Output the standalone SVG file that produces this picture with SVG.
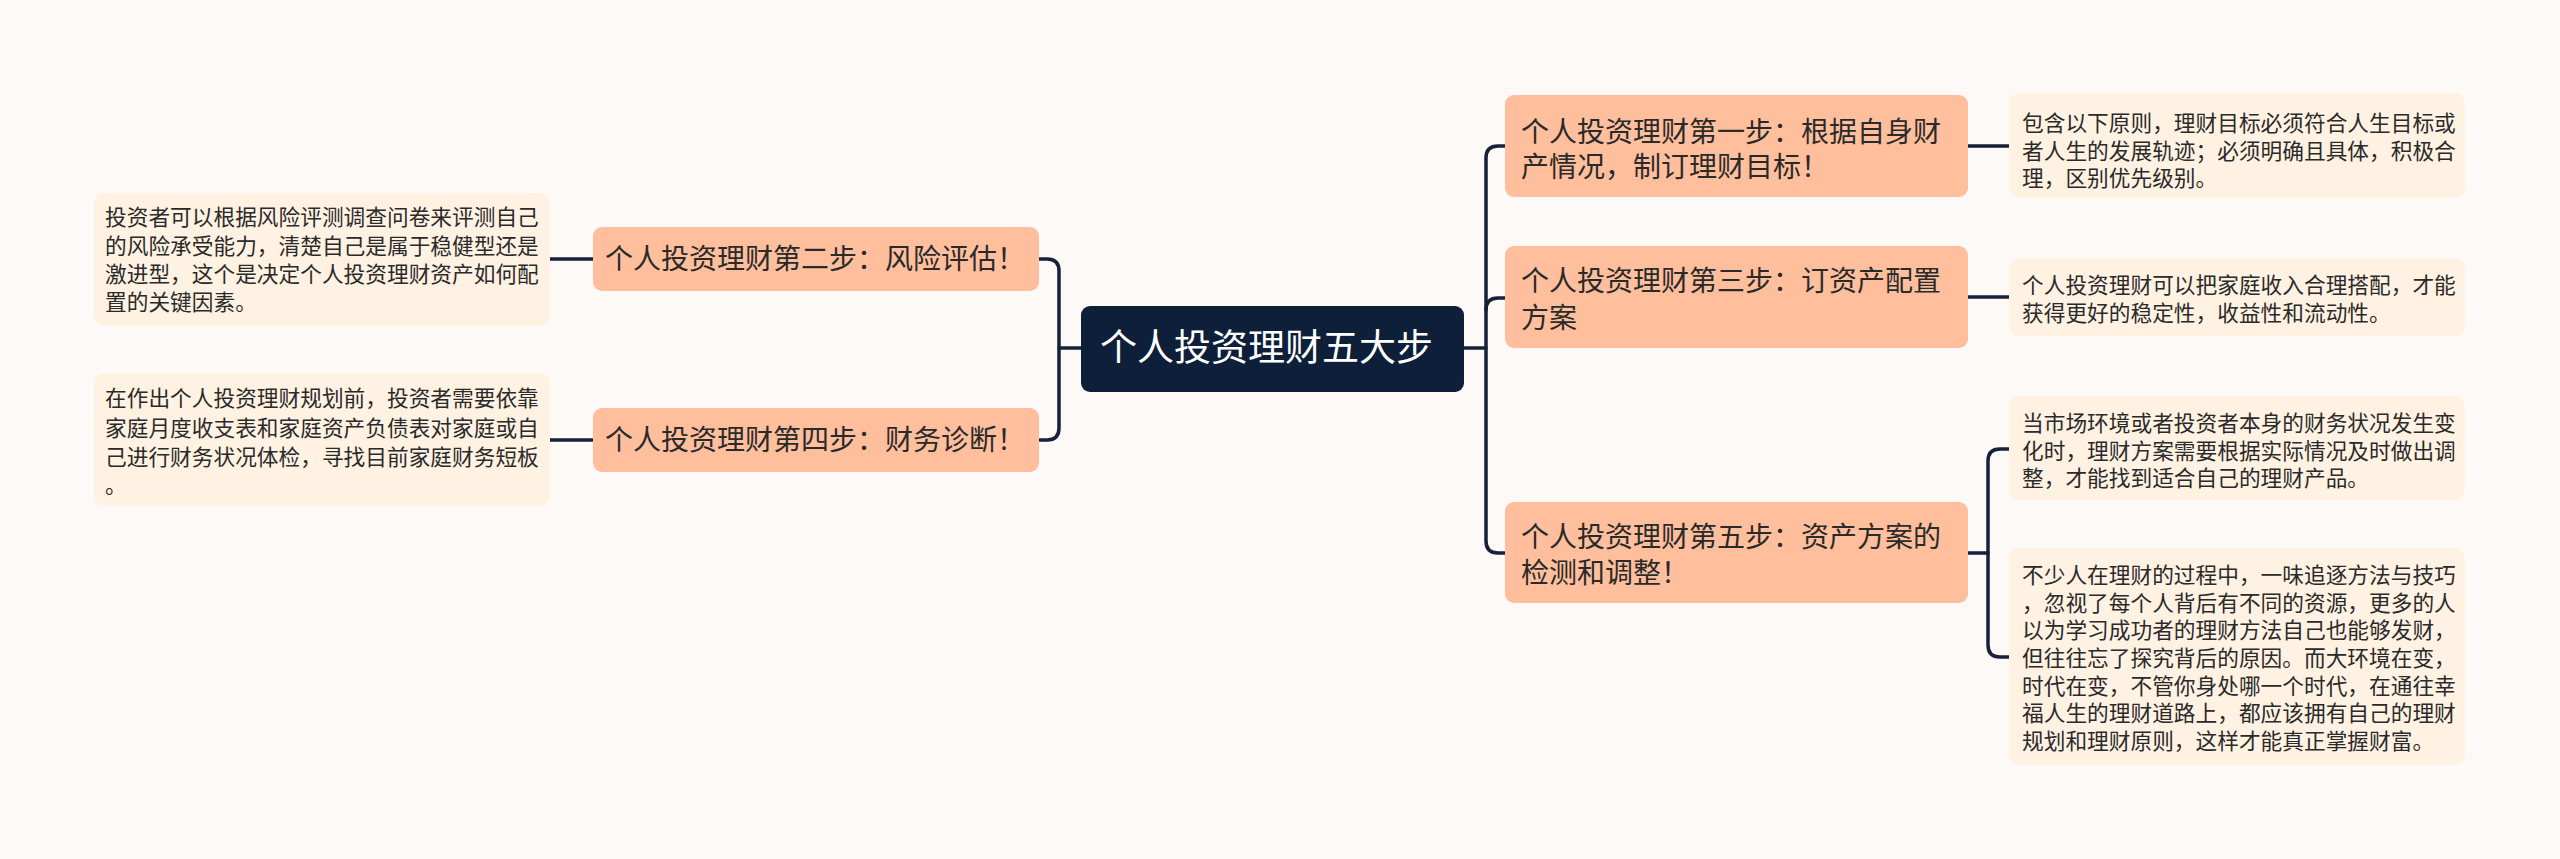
<svg xmlns="http://www.w3.org/2000/svg" width="2560" height="859" viewBox="0 0 2560 859">
<style>
.bg{fill:#FDF9F7}
.root{fill:#0E1F3A}
.node{fill:#FFBF9D}
.leaf{fill:#FFF2E3}
.rt{font-family:"Noto Sans CJK SC","Noto Sans",sans-serif;font-size:37px;fill:#FFFFFF}
.nt{font-family:"Noto Sans CJK SC","Noto Sans",sans-serif;font-size:28px;fill:#2A2A2A}
.lt{font-family:"Noto Sans CJK SC","Noto Sans",sans-serif;font-size:21.7px;fill:#2A2A2A}
.conn path{fill:none;stroke:#16213A;stroke-width:3.5;stroke-linecap:round}
</style>
<rect class="bg" x="0" y="0" width="2560" height="859"/>
<g class="conn" id="connectors">
<path d="M1081,348 H1059"/>
<path d="M1039,259 H1047 Q1059,259 1059,271 V428 Q1059,440 1047,440 H1039"/>
<path d="M550,259 H593"/>
<path d="M550,440 H593"/>
<path d="M1464,348 H1486"/>
<path d="M1505,146 H1498 Q1486,146 1486,158 V541 Q1486,553 1498,553 H1505"/>
<path d="M1486,310 Q1486,298 1498,298 H1505"/>
<path d="M1968,146 H2009"/>
<path d="M1968,297 H2009"/>
<path d="M1968,553 H1988"/>
<path d="M2009,449 H2000 Q1988,449 1988,461 V645 Q1988,657 2000,657 H2009"/>
</g>
<g id="root">
<rect class="root" x="1081" y="306" width="383" height="86" rx="9"/>
<text class="rt" x="1100" y="361">个人投资理财五大步</text>
</g>
<g id="step2">
<rect class="node" x="593" y="227" width="446" height="64" rx="9"/>
<text class="nt" x="605" y="269">个人投资理财第二步：风险评估！</text>
</g>
<g id="step4">
<rect class="node" x="593" y="408" width="446" height="64" rx="9"/>
<text class="nt" x="605" y="450">个人投资理财第四步：财务诊断！</text>
</g>
<g id="step1">
<rect class="node" x="1505" y="95" width="463" height="102" rx="9"/>
<text class="nt" x="1521" y="142">个人投资理财第一步：根据自身财</text>
<text class="nt" x="1521" y="177">产情况，制订理财目标！</text>
</g>
<g id="step3">
<rect class="node" x="1505" y="246" width="463" height="102" rx="9"/>
<text class="nt" x="1521" y="291">个人投资理财第三步：订资产配置</text>
<text class="nt" x="1521" y="328">方案</text>
</g>
<g id="step5">
<rect class="node" x="1505" y="502" width="463" height="101" rx="9"/>
<text class="nt" x="1521" y="547">个人投资理财第五步：资产方案的</text>
<text class="nt" x="1521" y="583">检测和调整！</text>
</g>
<g id="leaf2">
<rect class="leaf" x="94" y="193" width="456" height="133" rx="10"/>
<text class="lt" x="105" y="225">投资者可以根据风险评测调查问卷来评测自己</text>
<text class="lt" x="105" y="254">的风险承受能力，清楚自己是属于稳健型还是</text>
<text class="lt" x="105" y="282">激进型，这个是决定个人投资理财资产如何配</text>
<text class="lt" x="105" y="310">置的关键因素。</text>
</g>
<g id="leaf4">
<rect class="leaf" x="94" y="373" width="456" height="133" rx="10"/>
<text class="lt" x="105" y="406">在作出个人投资理财规划前，投资者需要依靠</text>
<text class="lt" x="105" y="436">家庭月度收支表和家庭资产负债表对家庭或自</text>
<text class="lt" x="105" y="465">己进行财务状况体检，寻找目前家庭财务短板</text>
<text class="lt" x="105" y="493">。</text>
</g>
<g id="leaf1">
<rect class="leaf" x="2009" y="93" width="456" height="105" rx="10"/>
<text class="lt" x="2022" y="131">包含以下原则，理财目标必须符合人生目标或</text>
<text class="lt" x="2022" y="159">者人生的发展轨迹；必须明确且具体，积极合</text>
<text class="lt" x="2022" y="186">理，区别优先级别。</text>
</g>
<g id="leaf3">
<rect class="leaf" x="2009" y="258" width="456" height="78" rx="10"/>
<text class="lt" x="2022" y="293">个人投资理财可以把家庭收入合理搭配，才能</text>
<text class="lt" x="2022" y="321">获得更好的稳定性，收益性和流动性。</text>
</g>
<g id="leaf5a">
<rect class="leaf" x="2009" y="396" width="456" height="104" rx="10"/>
<text class="lt" x="2022" y="431">当市场环境或者投资者本身的财务状况发生变</text>
<text class="lt" x="2022" y="459">化时，理财方案需要根据实际情况及时做出调</text>
<text class="lt" x="2022" y="486">整，才能找到适合自己的理财产品。</text>
</g>
<g id="leaf5b">
<rect class="leaf" x="2009" y="548" width="456" height="217" rx="10"/>
<text class="lt" x="2022" y="583">不少人在理财的过程中，一味追逐方法与技巧</text>
<text class="lt" x="2022" y="611">，忽视了每个人背后有不同的资源，更多的人</text>
<text class="lt" x="2022" y="638">以为学习成功者的理财方法自己也能够发财，</text>
<text class="lt" x="2022" y="666">但往往忘了探究背后的原因。而大环境在变，</text>
<text class="lt" x="2022" y="694">时代在变，不管你身处哪一个时代，在通往幸</text>
<text class="lt" x="2022" y="721">福人生的理财道路上，都应该拥有自己的理财</text>
<text class="lt" x="2022" y="749">规划和理财原则，这样才能真正掌握财富。</text>
</g>
</svg>
